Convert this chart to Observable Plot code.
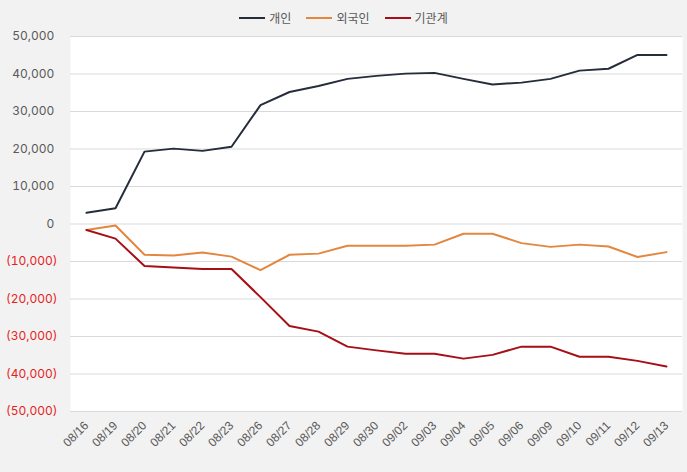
<!DOCTYPE html>
<html><head><meta charset="utf-8">
<script src="https://cdn.jsdelivr.net/npm/d3@7"></script>
<script src="https://cdn.jsdelivr.net/npm/@observablehq/plot@0.6"></script>
<style>
body{margin:0;background:#f2f2f2;font-family:Inter,"Noto Sans CJK KR",sans-serif;width:687px;height:472px;overflow:hidden;position:relative;}
#legend{position:absolute;left:0;top:0;width:687px;height:35px;display:flex;justify-content:center;align-items:center;gap:15px;font-size:12px;color:#595959;font-family:"Noto Sans CJK KR",sans-serif;}
#legend .item{display:flex;align-items:center;gap:4px;}
#legend .sw{width:26px;height:2px;display:inline-block;}
</style></head><body>
<div id="chart"></div><div id="legend"></div>
<script>
const dates = ["08/16","08/19","08/20","08/21","08/22","08/23","08/26","08/27","08/28","08/29","08/30","09/02","09/03","09/04","09/05","09/06","09/09","09/10","09/11","09/12","09/13"];
const seriesNames = ["개인","외국인","기관계"];
const seriesColors = ["#252d3b","#e3873f","#a50f15"];
const individual = [3000,4200,19300,20100,19500,20600,31700,35200,36800,38700,39500,40100,40300,38700,37200,37700,38700,40900,41400,45100,45100];
const foreign = [-1600,-400,-8200,-8400,-7600,-8700,-12300,-8200,-7900,-5800,-5800,-5800,-5500,-2600,-2600,-5100,-6100,-5500,-6000,-8800,-7500];
const institution = [-1600,-3900,-11200,-11600,-12000,-12000,-19500,-27200,-28700,-32700,-33700,-34600,-34600,-35900,-34900,-32700,-32700,-35400,-35400,-36500,-38000];
const yTicks = [-50000,-40000,-30000,-20000,-10000,0,10000,20000,30000,40000,50000];

const valuesBySeries = [individual, foreign, institution];
const rows = seriesNames.flatMap((s, i) => dates.map((d, j) => ({date: d, value: valuesBySeries[i][j], series: s})));

const legend = document.getElementById("legend");
seriesNames.forEach((s, i) => {
  const it = document.createElement("div"); it.className = "item";
  const sw = document.createElement("span"); sw.className = "sw"; sw.style.background = seriesColors[i];
  const tx = document.createElement("span"); tx.textContent = s;
  it.appendChild(sw); it.appendChild(tx); legend.appendChild(it);
});

const f = d3.format(",");
const fmt = v => v < 0 ? `(${f(-v)})` : f(v) + "\u2008";

const chart = Plot.plot({
  width: 687, height: 472,
  marginTop: 36, marginBottom: 61, marginLeft: 70, marginRight: 5,
  style: {background: "#f2f2f2", fontFamily: "Inter, 'Noto Sans CJK KR', sans-serif", fontSize: "12px"},
  x: {type: "point", domain: dates, padding: 0.5},
  y: {domain: [-50000, 50000]},
  color: {domain: seriesNames, range: seriesColors},
  marks: [
    Plot.frame({fill: "white", stroke: null}),
    Plot.gridY(yTicks, {stroke: "#d9d9d9", strokeOpacity: 1, strokeWidth: 1}),
    Plot.axisY(yTicks.filter(v => v >= 0), {tickSize: 0, tickPadding: 13, fill: "#595959", tickFormat: fmt, label: null, fontSize: 12}),
    Plot.axisY(yTicks.filter(v => v < 0), {tickSize: 0, tickPadding: 13, fill: "#e61e1e", tickFormat: fmt, label: null, fontSize: 12}),
    Plot.axisX({tickSize: 0, tickRotate: -45, tickPadding: 12, fill: "#595959", label: null, fontSize: 12, fontFamily: "'Liberation Sans', Arial, sans-serif"}),
    Plot.line(rows, {x: "date", y: "value", stroke: "series", z: "series", strokeWidth: 2})
  ]
});
document.getElementById("chart").appendChild(chart);
</script>
</body></html>
